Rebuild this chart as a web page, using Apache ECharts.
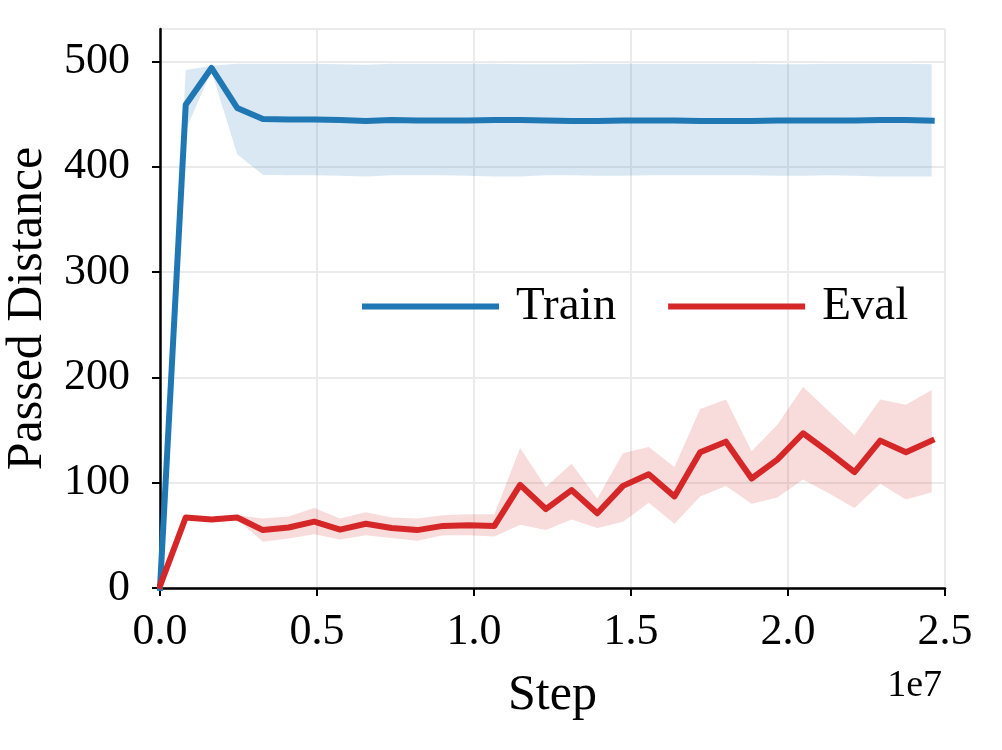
<!DOCTYPE html>
<html>
<head>
<meta charset="utf-8">
<script src="https://cdn.jsdelivr.net/npm/echarts@6/dist/echarts.min.js"></script>
<style>
html,body{margin:0;padding:0;background:#fff;}
#main{width:1002px;height:750px;}
</style>
</head>
<body>
<div id="main"></div>
<script>
const steps = [0,819200,1638400,2457600,3276800,4096000,4915200,5734400,6553600,7372800,8192000,9011200,9830400,10649600,11468800,12288000,13107200,13926400,14745600,15564800,16384000,17203200,18022400,18841600,19660800,20480000,21299200,22118400,22937600,23756800,24576000];
const trainMean = [0,459,494,456,445.5,445,445,444.5,443.5,444.5,444,444,444,444.5,444.5,444,443.5,443.5,444,444,444,443.5,443.5,443.5,444,444,444,444,444.5,444.5,444];
const trainUpper = [0,492,496,498,498,498,498,497.5,497,498,498,498,498,498,497.5,497.5,497.5,498,498,498,498,498,498,498,497.5,497.5,498,498,498,498,497.5];
const trainLower = [0,435,491,412,392.5,392,392,391.5,391,392,392,392,391.5,391,391,392,392,391.5,391.5,392,392,392,392,392,391.5,391.5,392,391.5,391,391,391];
const evalMean = [2,67,65,67,55,57.5,63,55.5,61,57,55,59,59.5,59,98,75,93,71,97,108,87,129,139,104,122,147,129,110,140,129,140];
const evalUpper = [2,69,67,69,66,68,76,66,72,67,66,69,70,70,133,96,118,85,128,134,115,170,179,130,155,191,168,145,179,174,188];
const evalLower = [2,65,63,65,44,47,51,46,50,47.5,45,50,50,49,60,55,65,57,63,81,61,87,97,80,86,103,90,76,99,84,91];
const xTicks = [0,5e6,1e7,1.5e7,2e7,2.5e7];
const yTicks = [0,100,200,300,400,500];

const BLUE = '#1f77b4', RED = '#d62728';
const FONT = 'Liberation Serif';

function bandSeries(name, lower, upper, color) {
  return {
    type: 'custom',
    name: name,
    silent: true,
    z: 1,
    data: steps.map((x, i) => [x, lower[i], upper[i]]),
    encode: {x: 0, y: [1, 2]},
    renderItem: function (params, api) {
      if (params.dataIndex !== 0) return null;
      const pts = [];
      for (let i = 0; i < steps.length; i++) pts.push(api.coord([steps[i], upper[i]]));
      for (let i = steps.length - 1; i >= 0; i--) pts.push(api.coord([steps[i], lower[i]]));
      return {type: 'polygon', shape: {points: pts}, style: {fill: color, stroke: null}};
    }
  };
}

function lineSeries(name, vals, color) {
  return {
    type: 'line',
    name: name,
    data: steps.map((x, i) => [x, vals[i]]),
    showSymbol: false,
    symbol: 'none',
    z: 3,
    lineStyle: {color: color, width: 6, cap: 'square', join: 'round'},
    itemStyle: {color: color},
    animation: false
  };
}

const chart = echarts.init(document.getElementById('main'), null, {renderer: 'canvas'});
chart.setOption({
  animation: false,
  backgroundColor: '#fff',
  textStyle: {fontFamily: FONT},
  grid: {left: 160, right: 57, top: 29, bottom: 162, containLabel: false, outerBoundsMode: 'none'},
  legend: {
    data: [{name: 'Train', icon: 'rect'}, {name: 'Eval', icon: 'rect'}],
    left: 362, top: 283, padding: 0,
    itemWidth: 137, itemHeight: 6, itemGap: 52,
    textStyle: {fontFamily: FONT, fontSize: 47, color: '#000', padding: [0, 0, 0, 12]}
  },
  xAxis: {
    type: 'value', min: 0, max: 2.5e7, interval: 5e6,
    name: 'Step', nameLocation: 'middle', nameGap: 83,
    nameTextStyle: {fontFamily: FONT, fontSize: 50, color: '#000'},
    axisLine: {show: true, onZero: false, lineStyle: {color: '#000', width: 2.5}},
    axisTick: {show: true, length: 8, lineStyle: {color: '#000', width: 2}},
    axisLabel: {fontFamily: FONT, fontSize: 44, color: '#000', margin: 22,
      formatter: v => (v / 1e7).toFixed(1)},
    splitLine: {show: true, lineStyle: {color: '#ebebeb', width: 2}}
  },
  yAxis: {
    type: 'value', min: 0, max: 531, interval: 100,
    name: 'Passed Distance', nameLocation: 'middle', nameGap: 105, nameRotate: 90,
    nameTextStyle: {fontFamily: FONT, fontSize: 50, color: '#000'},
    axisLine: {show: true, onZero: false, lineStyle: {color: '#000', width: 2.5}},
    axisTick: {show: true, length: 8, lineStyle: {color: '#000', width: 2}},
    axisLabel: {fontFamily: FONT, fontSize: 44, color: '#000', margin: 30,
      showMaxLabel: false},
    splitLine: {show: true, lineStyle: {color: '#ebebeb', width: 2}}
  },
  graphic: [{
    type: 'text', right: 1002 - 942, top: 667, silent: true,
    style: {text: '1e7', fontFamily: FONT, fontSize: 38, fill: '#000'}
  }],
  series: [
    bandSeries('TrainBand', trainLower, trainUpper, 'rgba(31,119,180,0.17)'),
    bandSeries('EvalBand', evalLower, evalUpper, 'rgba(214,39,40,0.17)'),
    lineSeries('Train', trainMean, BLUE),
    lineSeries('Eval', evalMean, RED)
  ]
});
</script>
</body>
</html>
